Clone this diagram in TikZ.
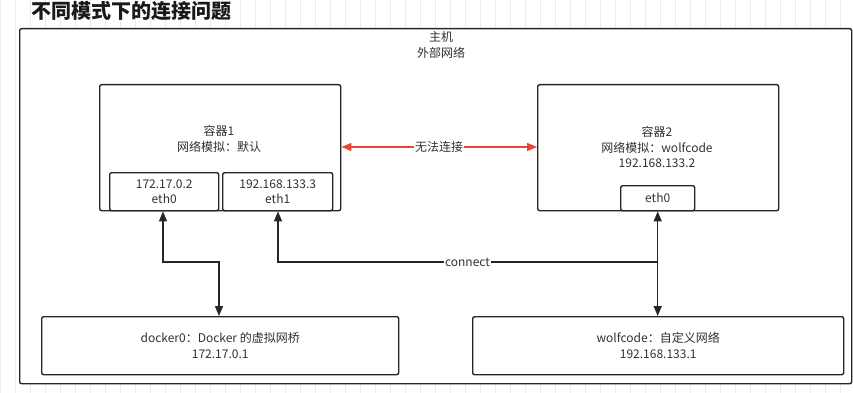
\documentclass[tikz,border=0pt]{standalone}
\usepackage{fontspec}
\usepackage{xcolor}
\usepackage{tikz}
\usetikzlibrary{arrows.meta, positioning, backgrounds}
\setmainfont{Liberation Sans}
\newfontfamily\cjk{Noto Sans CJK SC}
\definecolor{linkred}{RGB}{230,70,50}
\definecolor{textgray}{RGB}{50,50,50}
\definecolor{gridgray}{RGB}{236,236,236}

\tikzset{
  box/.style={draw=black!85, line width=1.4pt, rounded corners=2pt, fill=white,
    inner sep=0pt, text=textgray, font=\cjk\fontsize{12}{15.5}\selectfont, align=center},
  link/.style={line width=1.4pt, draw=black!85, {Triangle[length=10pt,width=8pt]}-{Triangle[length=10pt,width=8pt]}},
  uplink/.style={line width=1.4pt, draw=black!85, -{Triangle[length=10pt,width=8pt]}},
  label/.style={font=\cjk\fontsize{12}{14}\selectfont, text=textgray, fill=white, inner sep=1pt}
}

\begin{document}
\begin{tikzpicture}[x=1pt, y=-1pt]
  \useasboundingbox (0,0) rectangle (853,393);
  \clip (0,0) rectangle (853,393);

  %% background grid
  \fill[white] (0,0) rectangle (853,393);
  \draw[gridgray, line width=0.5pt, step=15] (0,0) grid (853,393);

  %% title
  \node[font=\cjk\bfseries\fontsize{20}{21}\selectfont, anchor=west, text=black!90] (title) at (28,11)
    {不同模式下的连接问题};

  %% host frame
  \node[box, minimum width=832, minimum height=355, anchor=north west] (host) at (19,28) {};
  \node[font=\cjk\fontsize{12}{15.5}\selectfont, text=textgray, align=center, anchor=north] (hostlbl)
    at (441,28) {主机\\外部网络};

  %% container 1
  \node[box, minimum width=241, minimum height=126, anchor=north west] (c1) at (99,84) {};
  \node[font=\cjk\fontsize{12}{15.5}\selectfont, text=textgray, align=center] (c1lbl)
    at (219,139) {容器1\\网络模拟：默认};
  \node[box, minimum width=109, minimum height=38, anchor=north west] (c1eth0) at (109,172)
    {172.17.0.2\\eth0};
  \node[box, minimum width=110, minimum height=38, anchor=north west] (c1eth1) at (222,172)
    {192.168.133.3\\eth1};

  %% container 2
  \node[box, minimum width=241, minimum height=126, anchor=north west] (c2) at (537,84) {};
  \node[font=\cjk\fontsize{12}{15.5}\selectfont, text=textgray, align=center] (c2lbl)
    at (657,147) {容器2\\网络模拟：wolfcode\\192.168.133.2};
  \node[box, minimum width=74, minimum height=25, anchor=north west] (c2eth0) at (620,185) {eth0};

  %% bridges
  \node[box, minimum width=357, minimum height=58, anchor=north west] (docker) at (41,316)
    {docker0：Docker 的虚拟网桥\\172.17.0.1};
  \node[box, minimum width=371, minimum height=58, anchor=north west] (wolf) at (472,316)
    {wolfcode：自定义网络\\192.168.133.1};

  %% links
  \draw[line width=1.4pt, linkred, {Triangle[length=10pt,width=8pt]}-{Triangle[length=10pt,width=8pt]}]
    (c1.east |- 0,147) -- node[label] (nolink) {无法连接} (c2.west |- 0,147);

  \coordinate (bend1) at (219,262);
  \draw[link] (c1eth0.south -| 163,0) |- (bend1) -- (docker.north -| bend1);

  \draw[link] (c2eth0.south) -- (wolf.north -| c2eth0.south);
  \coordinate (join) at (657,262);
  \draw[uplink] (join) -- node[label, pos=0.5] (conn) {connect} (278,262) -- (c1eth1.south -| 278,0);
\end{tikzpicture}
\end{document}
